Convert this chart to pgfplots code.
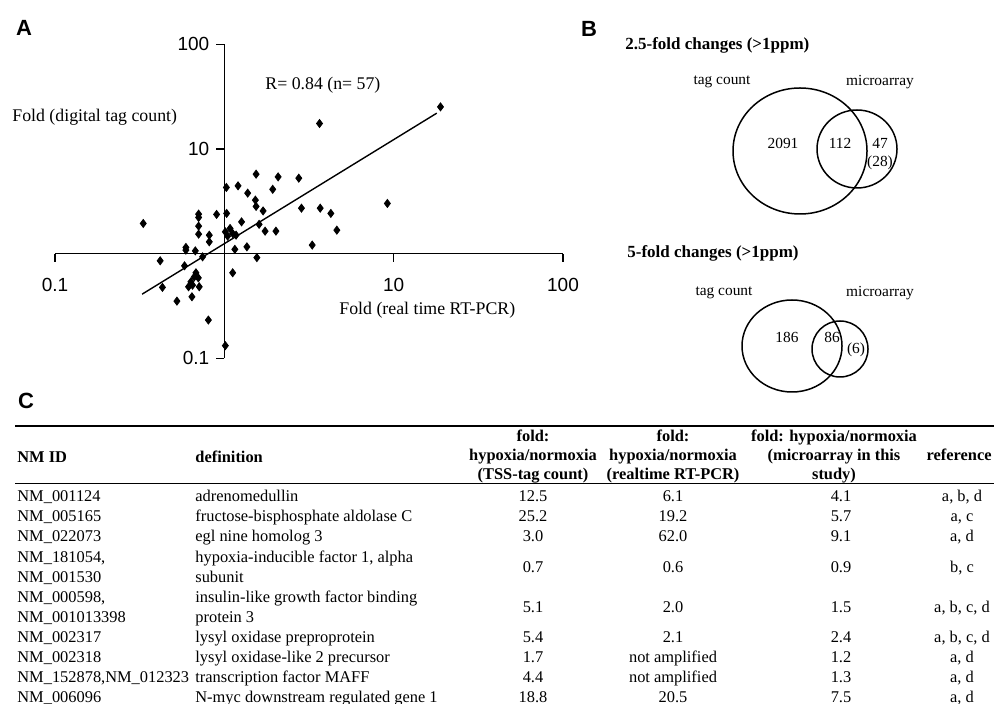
\documentclass[border=0pt]{standalone}
\usepackage{fontspec}
\setmainfont{Liberation Serif}
\setsansfont{Liberation Sans}
\usepackage{pgfplots}
\pgfplotsset{compat=1.18}

% font sizes (1 px of the reference = 0.5pt)
\newcommand\fA{\fontsize{8.9}{10.5}\selectfont}
\newcommand\fT{\fontsize{8.2}{10}\selectfont}
\newcommand\fV{\fontsize{7.7}{9}\selectfont}
\newcommand\fVt{\fontsize{8.5}{10}\selectfont\bfseries}
\newcommand\fL{\fontsize{11}{13}\selectfont\sffamily\bfseries}
\newcommand\fTick{\fontsize{9.5}{11}\selectfont\sffamily}

% qPCR vs tag count (fold)
\pgfplotstableread{
x y
0.332 1.943
0.418 0.854
0.431 0.476
0.525 0.352
0.593 1.146
0.593 1.080
0.582 0.765
0.674 1.063
0.644 0.387
0.680 0.656
0.665 0.600
0.702 0.587
0.635 0.538
0.615 0.482
0.711 0.482
0.649 0.500
0.705 2.384
0.705 2.217
0.705 1.831
0.705 1.536
0.815 1.502
0.815 1.296
0.900 2.368
0.744 0.932
0.805 0.232
1.014 0.132
1.120 0.656
1.028 4.289
1.032 2.421
1.205 4.442
1.014 1.615
1.081 1.741
1.120 1.560
1.046 1.470
1.173 1.502
1.154 1.099
1.264 2.012
1.359 1.161
1.374 3.783
1.540 5.745
1.525 3.243
1.540 2.824
1.694 2.557
1.604 1.905
1.741 1.640
1.557 0.916
1.931 4.113
2.078 5.414
2.017 1.640
2.752 5.261
2.855 2.720
3.304 1.206
3.649 17.52
3.684 2.720
4.256 2.421
4.618 1.677
9.178 3.016
18.90 25.24
}\foldtable

\tikzset{T/.style={inner sep=0pt, font=\fT}, TB/.style={inner sep=0pt, font=\fT\bfseries}}
\newcommand\trow[7]{%
  \node[T,anchor=base west] at (17,#1) {#2};
  \node[T,anchor=base west] at (195,#1) {#3};
  \node[T,anchor=base] at (533,#1) {#4};
  \node[T,anchor=base] at (673,#1) {#5};
  \node[T,anchor=base] at (841,#1) {#6};
  \node[T,anchor=base] at (962,#1) {#7};}

\begin{document}
\begin{tikzpicture}
\path[use as bounding box] (0,0) rectangle (497pt,-352pt);
\clip (0,0) rectangle (497pt,-352pt);

% panel A
\begin{axis}[
  at={(27.5pt,-179.15pt)}, anchor=south west,
  scale only axis, width=254pt, height=157pt,
  xmode=log, ymode=log,
  xmin=0.1, xmax=100, ymin=0.1, ymax=100,
  axis lines=middle, axis line style={-, line width=0.6pt},
  xtick={0.1,1,10,100}, ytick={0.1,1,10,100},
  xminorticks=false, yminorticks=false,
  xticklabels={\textsf{0.1},,\textsf{10},\textsf{100}},
  yticklabels={\textsf{0.1},,\textsf{10},\textsf{100}},
  tick align=outside, major tick length=4pt,
  tick style={black, line width=0.6pt},
  xticklabel style={font=\fTick, yshift=-5pt},
  yticklabel style={font=\fTick},
  clip=false,
]
\addplot[only marks, mark=diamond*, mark size=2pt, black] table {\foldtable};
\addplot[black, line width=0.7pt] coordinates {(0.327,0.410) (17.97,21.98)};
\end{axis}

\begin{scope}[x=0.5pt, y=-0.5pt]
% panel letters
\node[inner sep=0, font=\fL] at (24,28) {A};
\node[inner sep=0, font=\fL] at (589,29) {B};
\node[inner sep=0, font=\fL] at (26,401) {C};

% panel A texts
\node[inner sep=0, anchor=west, font=\fA] at (12,117) {Fold (digital tag count)};
\node[inner sep=0, anchor=west, font=\fA] at (339,310) {Fold (real time RT-PCR)};
\node[inner sep=0, anchor=west, font=\fA] at (265,85) {R= 0.84 (n= 57)};

% panel B, 2.5-fold
\node[inner sep=0, anchor=west, font=\fVt] at (625,45) {2.5-fold changes (>1ppm)};
\node[inner sep=0, font=\fV] at (722,82) {tag count};
\node[inner sep=0, font=\fV] at (880,82) {microarray};
\draw[line width=0.75pt] (800,151) ellipse [x radius=67, y radius=63];
\draw[line width=0.75pt] (857,149) ellipse [x radius=40, y radius=39];
\node[inner sep=0, font=\fV] at (783,143) {2091};
\node[inner sep=0, font=\fV] at (840,143) {112};
\node[inner sep=0, font=\fV] at (880,143) {47};
\node[inner sep=0, font=\fV] at (880,163) {(28)};

% panel B, 5-fold
\node[inner sep=0, anchor=west, font=\fVt] at (627,253) {5-fold changes (>1ppm)};
\node[inner sep=0, font=\fV] at (724,293) {tag count};
\node[inner sep=0, font=\fV] at (880,293) {microarray};
\draw[line width=0.75pt] (792,346) ellipse [x radius=50, y radius=46];
\draw[line width=0.75pt] (840,349) ellipse [x radius=28, y radius=28];
\node[inner sep=0, font=\fV] at (787,337) {186};
\node[inner sep=0, font=\fV] at (832,337) {86};
\node[inner sep=0, font=\fV] at (856,350) {(6)};

% panel C table
\draw[line width=0.75pt] (15,426) -- (994,426);
\draw[line width=0.5pt] (15,484) -- (994,484);
\node[TB,anchor=base west] at (17,462.5) {NM ID};
\node[TB,anchor=base west] at (195,462.5) {definition};
\node[TB,anchor=base] at (533,441.5) {fold:};
\node[TB,anchor=base] at (533,460.5) {hypoxia/normoxia};
\node[TB,anchor=base] at (533,479.5) {(TSS-tag count)};
\node[TB,anchor=base] at (673,441.5) {fold:};
\node[TB,anchor=base] at (673,460.5) {hypoxia/normoxia};
\node[TB,anchor=base] at (673,479.5) {(realtime RT-PCR)};
\node[TB,anchor=base] at (834,441.5) {fold: hypoxia/normoxia};
\node[TB,anchor=base] at (834,460.5) {(microarray in this};
\node[TB,anchor=base] at (834,479.5) {study)};
\node[TB,anchor=base east] at (992,460.5) {reference};

\trow{501.5}{NM\_001124}{adrenomedullin}{12.5}{6.1}{4.1}{a, b, d}
\trow{521.5}{NM\_005165}{fructose-bisphosphate aldolase C}{25.2}{19.2}{5.7}{a, c}
\trow{541.5}{NM\_022073}{egl nine homolog 3}{3.0}{62.0}{9.1}{a, d}
\node[T,anchor=base west] at (17,562.5) {NM\_181054,};
\node[T,anchor=base west] at (17,582.5) {NM\_001530};
\trow{572.5}{}{}{0.7}{0.6}{0.9}{b, c}
\node[T,anchor=base west] at (195,562.5) {hypoxia-inducible factor 1, alpha};
\node[T,anchor=base west] at (195,582.5) {subunit};
\node[T,anchor=base west] at (17,602.5) {NM\_000598,};
\node[T,anchor=base west] at (17,622.5) {NM\_001013398};
\trow{612.5}{}{}{5.1}{2.0}{1.5}{a, b, c, d}
\node[T,anchor=base west] at (195,602.5) {insulin-like growth factor binding};
\node[T,anchor=base west] at (195,622.5) {protein 3};
\trow{642.5}{NM\_002317}{lysyl oxidase preproprotein}{5.4}{2.1}{2.4}{a, b, c, d}
\trow{662.5}{NM\_002318}{lysyl oxidase-like 2 precursor}{1.7}{not amplified}{1.2}{a, d}
\trow{682.5}{NM\_152878,NM\_012323}{transcription factor MAFF}{4.4}{not amplified}{1.3}{a, d}
\trow{702.5}{NM\_006096}{N-myc downstream regulated gene 1}{18.8}{20.5}{7.5}{a, d}
\end{scope}
\end{tikzpicture}
\end{document}
